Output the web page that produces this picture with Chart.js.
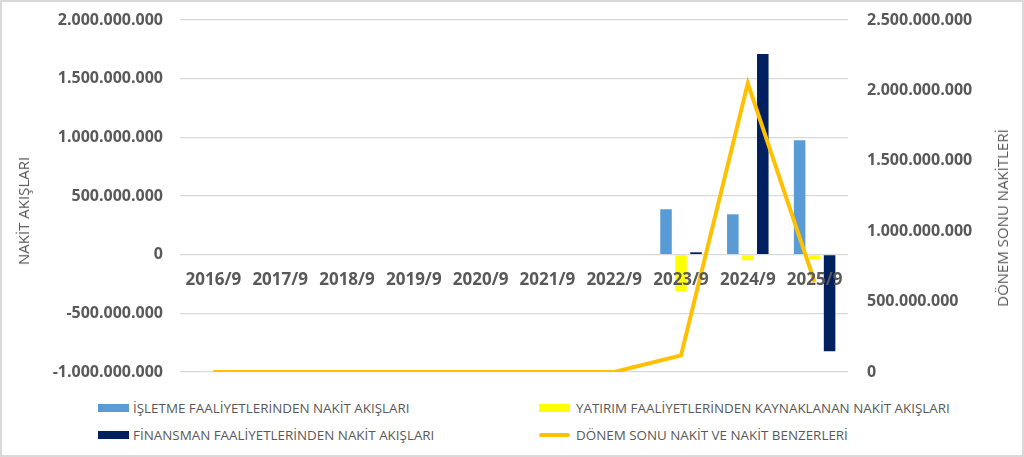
<!DOCTYPE html>
<html>
<head>
<meta charset="utf-8">
<script src="https://cdn.jsdelivr.net/npm/chart.js@4/dist/chart.umd.min.js"></script>
<style>
  html, body { margin: 0; padding: 0; background: #fff; }
  #wrap { position: relative; width: 1024px; height: 457px; box-sizing: border-box; border: 2px solid #d9d9d9; overflow: hidden; font-family: 'Open Sans', sans-serif; color: #595959; }
  #cv { position: absolute; left: -2px; top: -2px; }
  .atitle { position: absolute; font-size: 15px; white-space: nowrap; transform: translate(-50%, -50%) rotate(-90deg); color: #595959; }
  .leg { position: absolute; font-size: 13.4px; white-space: nowrap; color: #595959; transform: translateY(-50%); }
  .sw { position: absolute; transform: translateY(-50%); }
</style>
</head>
<body>
<div id="wrap">
  <canvas id="cv" width="1024" height="392"></canvas>
  <div class="atitle" style="left:21px; top:209px;">NAKİT AKIŞLARI</div>
  <div class="atitle" style="left:1000px; top:216px;">DÖNEM SONU NAKİTLERİ</div>
  <div id="legend"></div>
</div>
<script>
const categories = ['2016/9','2017/9','2018/9','2019/9','2020/9','2021/9','2022/9','2023/9','2024/9','2025/9'];
const isletme   = [null, null, null, null, null, null, null, 387000000, 344000000, 976000000];
const yatirim   = [null, null, null, null, null, null, null, -313000000, -48000000, -37000000];
const finansman = [null, null, null, null, null, null, null, 20000000, 1710000000, -823000000];
const donemSonu = [0, 0, 0, 0, 0, 0, 0, 118000000, 2050000000, 640000000];
const seriesNames = [
  'İŞLETME FAALİYETLERİNDEN NAKİT AKIŞLARI',
  'YATIRIM FAALİYETLERİNDEN KAYNAKLANAN NAKİT AKIŞLARI',
  'FİNANSMAN FAALİYETLERİNDEN NAKİT AKIŞLARI',
  'DÖNEM SONU NAKİT VE NAKİT BENZERLERİ'
];
const colors = ['#5B9BD5', '#FFFF00', '#002060', '#FFC000'];

function fmt(v) {
  const s = String(Math.abs(Math.round(v))).replace(/\B(?=(\d{3})+(?!\d))/g, '.');
  return (v < 0 ? '-' : '') + s;
}

const tickFont = { family: "'Open Sans', sans-serif", size: 16, weight: '700' };
const xFont = { family: "'Open Sans', sans-serif", size: 17, weight: '700' };
const barCommon = { categoryPercentage: 0.673, barPercentage: 0.77, yAxisID: 'y', order: 1 };

new Chart(document.getElementById('cv'), {
  type: 'bar',
  data: {
    labels: categories,
    datasets: [
      Object.assign({ label: seriesNames[0], data: isletme, backgroundColor: colors[0] }, barCommon),
      Object.assign({ label: seriesNames[1], data: yatirim, backgroundColor: colors[1] }, barCommon),
      Object.assign({ label: seriesNames[2], data: finansman, backgroundColor: colors[2] }, barCommon),
      { type: 'line', label: seriesNames[3], data: donemSonu, borderColor: colors[3], backgroundColor: colors[3],
        borderWidth: 4, pointRadius: 0, tension: 0, yAxisID: 'y1', order: 0 }
    ]
  },
  options: {
    responsive: false,
    animation: false,
    layout: { padding: { top: 20, bottom: 20, left: 0, right: 0 } },
    plugins: { legend: { display: false }, tooltip: { enabled: false } },
    scales: {
      x: {
        position: { y: 0 },
        grid: { display: false, drawTicks: false },
        border: { display: false },
        ticks: { z: 1, color: '#595959', font: xFont, padding: 15, maxRotation: 0, autoSkip: false }
      },
      y: {
        position: 'left',
        min: -1000000000, max: 2000000000,
        ticks: { stepSize: 500000000, color: '#595959', font: tickFont, padding: 17, callback: v => fmt(v) },
        grid: { color: '#d9d9d9', lineWidth: 1.3, drawTicks: false },
        border: { display: false },
        afterFit: s => { s.width = 180; s.paddingTop = 0; s.paddingBottom = 0; }
      },
      y1: {
        position: 'right',
        min: 0, max: 2500000000,
        ticks: { stepSize: 500000000, color: '#595959', font: tickFont, padding: 19, callback: v => fmt(v) },
        grid: { display: false, drawTicks: false },
        border: { display: false },
        afterFit: s => { s.width = 176; s.paddingTop = 0; s.paddingBottom = 0; }
      }
    }
  }
});

// HTML legend (two columns)
const legendPos = [
  { sx: 96, tx: 131, y: 406 },
  { sx: 537, tx: 574, y: 406 },
  { sx: 96, tx: 131, y: 433 },
  { sx: 537, tx: 574, y: 433 }
];
const legend = document.getElementById('legend');
seriesNames.forEach((name, i) => {
  const p = legendPos[i];
  const sw = document.createElement('div');
  sw.className = 'sw';
  const isLine = i === 3;
  sw.style.left = p.sx + 'px';
  sw.style.top = p.y + 'px';
  sw.style.width = '31px';
  sw.style.height = isLine ? '4px' : '8px';
  sw.style.background = colors[i];
  if (isLine) sw.style.borderRadius = '2px';
  legend.appendChild(sw);
  const t = document.createElement('div');
  t.className = 'leg';
  t.style.left = p.tx + 'px';
  t.style.top = p.y + 'px';
  t.textContent = name;
  legend.appendChild(t);
});
</script>
</body>
</html>
